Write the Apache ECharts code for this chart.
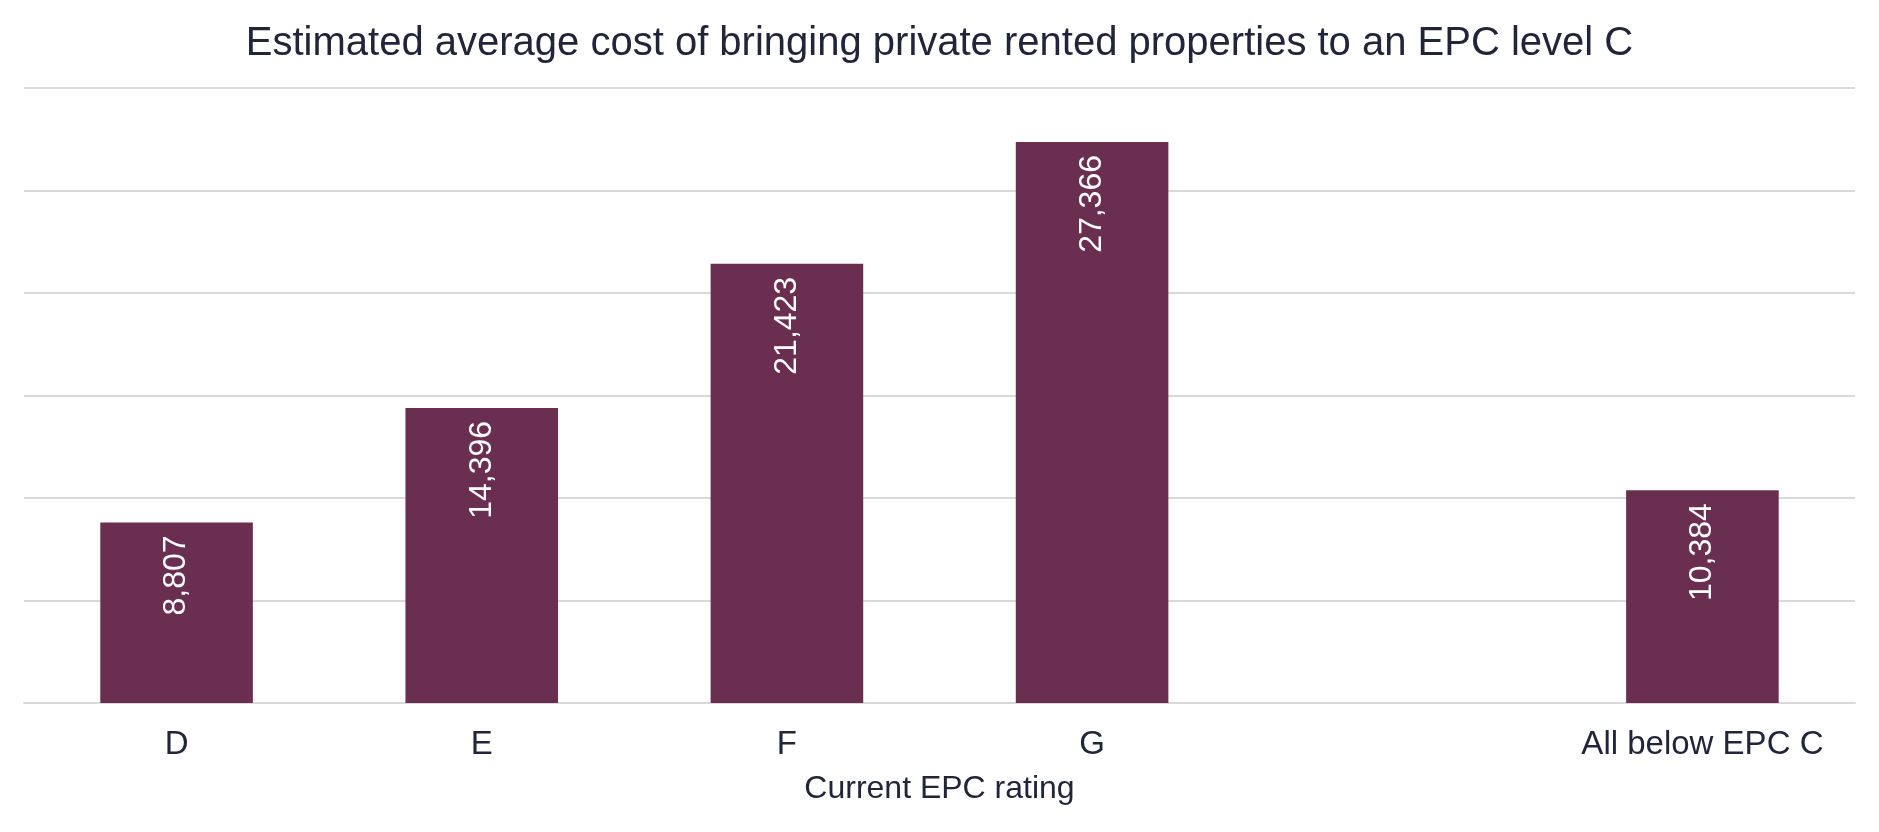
<!DOCTYPE html>
<html>
<head>
<meta charset="utf-8">
<script src="https://cdn.jsdelivr.net/npm/echarts@6/dist/echarts.min.js"></script>
<style>
html,body{margin:0;padding:0;background:#fff;}
#chart{width:1879px;height:832px;}
</style>
</head>
<body>
<div id="chart"></div>
<script>
var titleText = 'Estimated average cost of bringing private rented properties to an EPC level C';
var categories = ['D', 'E', 'F', 'G', '', 'All below EPC C'];
var costValues = [8807, 14396, 21423, 27366, '-', 10384];
var axisName = 'Current EPC rating';
var yMin = 0, yMax = 30000, yInterval = 5000;

var textColor = '#222539';
var barColor = '#6a2e50';
var font = 'Liberation Sans, Arial, sans-serif';

var chart = echarts.init(document.getElementById('chart'));
chart.setOption({
  animation: false,
  backgroundColor: '#ffffff',
  title: {
    text: titleText,
    left: 'center',
    top: 19,
    textStyle: { color: textColor, fontFamily: font, fontSize: 40, fontWeight: 'normal' }
  },
  grid: { left: 24, right: 24, top: 88, bottom: 129, containLabel: false },
  xAxis: {
    type: 'category',
    data: categories,
    name: axisName,
    nameLocation: 'middle',
    nameGap: 70,
    nameTextStyle: { color: textColor, fontFamily: font, fontSize: 32 },
    axisLine: { show: true, lineStyle: { color: '#d9d9d9', width: 2 } },
    axisTick: { show: false },
    axisLabel: { color: textColor, fontFamily: font, fontSize: 33, margin: 25, interval: 0 }
  },
  yAxis: {
    type: 'value',
    min: yMin,
    max: yMax,
    interval: yInterval,
    axisLine: { show: false },
    axisTick: { show: false },
    axisLabel: { show: false },
    splitLine: { show: true, lineStyle: { color: '#d9d9d9', width: 2 } }
  },
  series: [{
    type: 'bar',
    data: costValues,
    barWidth: '50%',
    itemStyle: { color: barColor },
    label: {
      show: true,
      position: 'insideTop',
      rotate: 90,
      align: 'right',
      verticalAlign: 'middle',
      distance: 13,
      color: '#ffffff',
      fontFamily: font,
      fontSize: 32,
      formatter: function (p) { return Number(p.value).toLocaleString('en-GB'); }
    }
  }]
});
</script>
</body>
</html>
